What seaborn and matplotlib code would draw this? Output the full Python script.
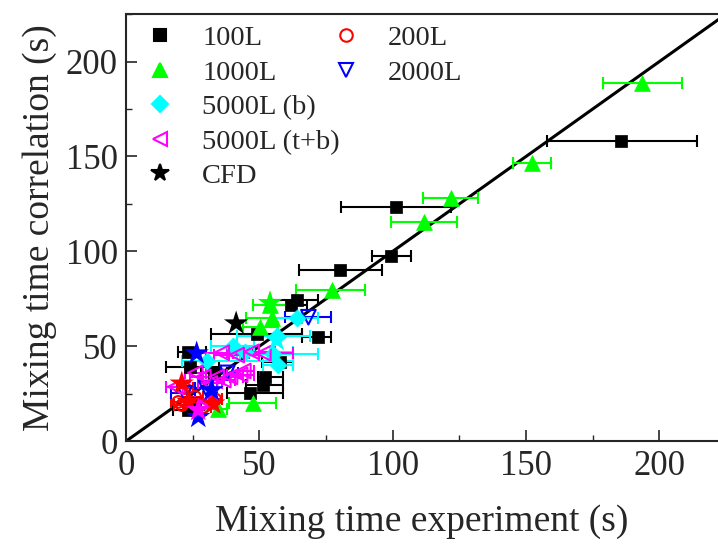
import numpy as np
import pandas as pd
import matplotlib
matplotlib.use("Agg")
import matplotlib.pyplot as plt
from matplotlib.lines import Line2D
from matplotlib.ticker import MultipleLocator
import seaborn as sns

# 100L (x, error bar low/high, y)
x_100 = [185.7, 101.2, 99.4, 80.3, 64.0, 62.0, 72.1, 49.0, 23.4, 24.0, 57.8, 52.1, 51.4, 46.5, 23.4, 33.0, 26.0]
lo_100 = [158.0, 80.6, 92.4, 65.0, 54.0, 55.0, 66.0, 32.0, 19.5, 15.0, 51.0, 49.5, 45.0, 38.0, 17.7, 28.0, 22.0]
hi_100 = [214.0, 121.7, 106.9, 95.9, 72.0, 68.0, 77.0, 66.0, 30.0, 35.0, 62.8, 59.0, 58.8, 58.9, 30.0, 38.0, 30.0]
y_100 = [158.3, 123.6, 97.6, 90.2, 74.4, 72.0, 55.0, 56.5, 47.0, 39.2, 41.5, 33.9, 29.5, 25.2, 16.4, 36.0, 20.0]

# 1000L
x_1000 = [193.4, 152.2, 121.8, 111.8, 77.1, 54.8, 50.3, 47.5, 34.6, 54.0]
lo_1000 = [178.8, 145.0, 111.3, 99.5, 63.6, 45.0, 44.0, 38.6, 30.0, 47.6]
hi_1000 = [208.4, 159.3, 132.0, 124.0, 89.6, 66.0, 57.0, 56.1, 38.0, 63.0]
y_1000 = [188.8, 146.5, 128.0, 115.7, 79.7, 65.0, 60.3, 19.9, 17.2, 71.5]

# 200L
x_200 = [19.6, 25.9, 22.0, 29.0, 33.5, 21.0]
lo_200 = [17.0, 23.0, 19.0, 26.0, 31.0, 18.0]
hi_200 = [22.0, 29.0, 25.0, 32.0, 36.0, 24.0]
y_200 = [20.7, 23.4, 28.0, 18.0, 22.0, 19.0]

# 2000L
x_2000 = [68.4, 30.0, 22.0, 38.0]
lo_2000 = [59.6, 26.0, 17.0, 34.0]
hi_2000 = [76.9, 34.0, 26.0, 42.0]
y_2000 = [65.3, 28.0, 25.3, 36.0]

# 5000L (b)
x_5b = [64.0, 56.5, 44.6, 55.0, 30.3, 57.0, 40.0]
lo_5b = [55.0, 41.5, 41.5, 42.8, 20.9, 51.5, 32.0]
hi_5b = [72.0, 69.0, 62.8, 72.0, 62.6, 62.6, 48.0]
y_5b = [64.7, 55.4, 47.0, 45.9, 42.4, 40.1, 50.0]

# 5000L (t+b)
x_5tb = [35.9, 41.5, 47.1, 51.5, 29.0, 34.0, 39.0, 42.8, 31.5, 36.5, 18.5, 30.3, 44.0, 26.0]
lo_5tb = [23.3, 33.0, 38.0, 40.0, 24.0, 29.0, 34.0, 38.0, 27.0, 32.0, 15.0, 26.0, 40.0, 22.0]
hi_5tb = [46.0, 50.0, 56.0, 62.6, 34.0, 39.0, 44.0, 48.0, 36.0, 41.0, 22.0, 34.0, 48.0, 30.0]
y_5tb = [46.6, 45.4, 47.1, 46.3, 33.9, 33.9, 33.9, 35.0, 30.4, 32.2, 28.7, 20.8, 37.0, 36.0]

# CFD points, coloured by vessel
cfd_x = [41.3, 54.0, 20.9, 23.4, 32.7, 26.5, 32.1, 27.1, 56.5, 27.1]
cfd_y = [62.1, 72.8, 30.4, 20.8, 19.9, 46.3, 26.9, 12.8, 53.3, 16.4]
cfd_vessel = ['100L', '1000L', '200L', '200L', '200L', '2000L', '2000L', '2000L', '5000L (b)', '5000L (t+b)']

colors = {'100L': 'black', '1000L': '#00ff00', '200L': 'red', '2000L': 'blue',
          '5000L (b)': 'cyan', '5000L (t+b)': 'magenta'}

sns.set_style("ticks")
plt.rcParams['font.family'] = ['Liberation Serif', 'DejaVu Serif']

fig = plt.figure(figsize=(7.18, 5.44), dpi=100)
ax = fig.add_axes([0.1755, 0.189, 0.8245, 0.785])

# 1:1 line
ax.plot([0, 240], [0, 240], color='black', lw=2.2, zorder=1)

series = [
    ('100L', x_100, lo_100, hi_100, y_100, 's', True, 80),
    ('1000L', x_1000, lo_1000, hi_1000, y_1000, '^', True, 130),
    ('200L', x_200, lo_200, hi_200, y_200, 'o', False, 70),
    ('2000L', x_2000, lo_2000, hi_2000, y_2000, 'v', False, 110),
    ('5000L (b)', x_5b, lo_5b, hi_5b, y_5b, 'D', True, 75),
    ('5000L (t+b)', x_5tb, lo_5tb, hi_5tb, y_5tb, '<', False, 110),
]

for name, xs, lo, hi, ys, mk, filled, size in series:
    xs = np.array(xs)
    err = [xs - np.array(lo), np.array(hi) - xs]
    ax.errorbar(xs, ys, xerr=err, fmt='none', ecolor=colors[name],
                elinewidth=1.5, capsize=4, capthick=1.5, zorder=2)

for name, xs, lo, hi, ys, mk, filled, size in series:
    df = pd.DataFrame({'x': xs, 'y': ys})
    if filled:
        sns.scatterplot(data=df, x='x', y='y', marker=mk, s=size, color=colors[name],
                        edgecolor=colors[name], linewidth=0.5, ax=ax, zorder=3)
    else:
        sns.scatterplot(data=df, x='x', y='y', marker=mk, s=size, facecolor='none',
                        edgecolor=colors[name], linewidth=1.5, ax=ax, zorder=3)

cfd = pd.DataFrame({'x': cfd_x, 'y': cfd_y, 'vessel': cfd_vessel})
sns.scatterplot(data=cfd, x='x', y='y', hue='vessel', palette=colors, marker='*',
                s=340, edgecolor='none', linewidth=0, ax=ax, zorder=4, legend=False)

ax.set_xlim(0, 222)
ax.set_ylim(0, 225)
ax.xaxis.set_major_locator(MultipleLocator(50))
ax.xaxis.set_minor_locator(MultipleLocator(25))
ax.yaxis.set_major_locator(MultipleLocator(50))
ax.yaxis.set_minor_locator(MultipleLocator(25))
ax.tick_params(which='major', direction='in', length=8, width=1.2, labelsize=25, pad=6)
ax.tick_params(which='minor', direction='in', length=4, width=1.0)
for sp in ['left', 'bottom', 'top']:
    ax.spines[sp].set_linewidth(1.5)
ax.spines['right'].set_visible(False)

ax.set_xlabel('Mixing time experiment (s)', fontsize=27, labelpad=16)
ax.set_ylabel('Mixing time correlation (s)', fontsize=27, labelpad=6)

# legend: first column 5 entries, second column 2
def h(mk, c, filled, ms):
    return Line2D([], [], ls='none', marker=mk, markersize=ms,
                  markerfacecolor=c if filled else 'none', markeredgecolor=c,
                  markeredgewidth=1.5)

blank = Line2D([], [], ls='none')
handles = [h('s', 'black', True, 9), h('^', '#00ff00', True, 10), h('D', 'cyan', True, 8),
           h('<', 'magenta', False, 10), h('*', 'black', True, 13),
           h('o', 'red', False, 9), h('v', 'blue', False, 10), blank, blank, blank]
labels = ['100L', '1000L', '5000L (b)', '5000L (t+b)', 'CFD', '200L', '2000L', '', '', '']
ax.legend(handles, labels, ncol=2, loc='upper left', frameon=False, fontsize=20.5,
          handlelength=1.6, handletextpad=0.68, columnspacing=-0.6, labelspacing=0.3,
          borderpad=0.2, borderaxespad=0.2, bbox_to_anchor=(0.0, 1.0))

fig.savefig('out.png', dpi=100)
